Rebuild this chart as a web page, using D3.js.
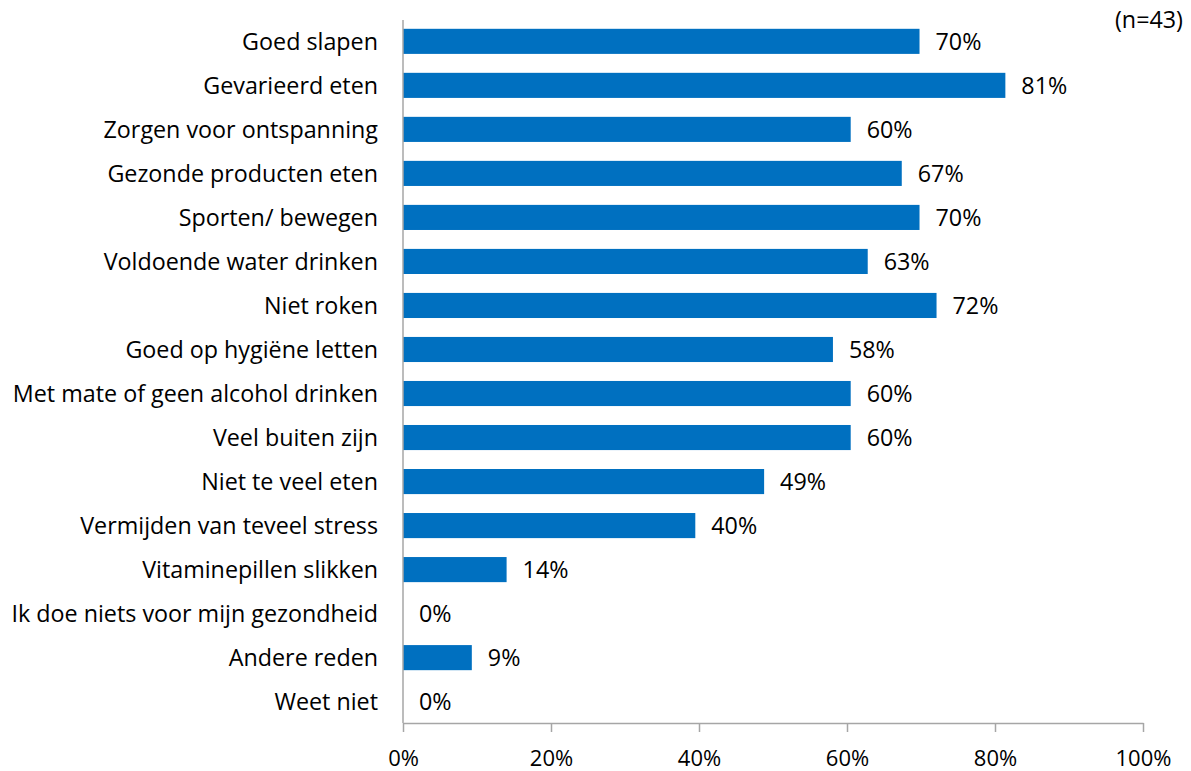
<!DOCTYPE html>
<html>
<head>
<meta charset="utf-8">
<script src="https://cdn.jsdelivr.net/npm/d3@7"></script>
<style>
  body { margin: 0; background: #fff; }
  text { font-family: "Open Sans", "Noto Sans", sans-serif; fill: #000; }
</style>
</head>
<body>
<svg id="chart" width="1191" height="771"></svg>
<script>
// categories, top to bottom
const categories = [
    "Goed slapen",
    "Gevarieerd eten",
    "Zorgen voor ontspanning",
    "Gezonde producten eten",
    "Sporten/ bewegen",
    "Voldoende water drinken",
    "Niet roken",
    "Goed op hygiëne letten",
    "Met mate of geen alcohol drinken",
    "Veel buiten zijn",
    "Niet te veel eten",
    "Vermijden van teveel stress",
    "Vitaminepillen slikken",
    "Ik doe niets voor mijn gezondheid",
    "Andere reden",
    "Weet niet"
];
// bar lengths (percent)
const values = [69.8, 81.4, 60.5, 67.4, 69.8, 62.8, 72.1, 58.1, 60.5, 60.5, 48.8, 39.5, 14.0, 0, 9.3, 0];
// labels printed next to bars
const valueLabels = ["70%", "81%", "60%", "67%", "70%", "63%", "72%", "58%", "60%", "60%", "49%", "40%", "14%", "0%", "9%", "0%"];
const tickValues = [0, 20, 40, 60, 80, 100];
const sampleNote = "(n=43)";

const svg = d3.select("#chart");
const margin = { left: 403, right: 48, top: 20, bottom: 48 };
const width = 1191 - margin.left - margin.right;
const height = 771 - margin.top - margin.bottom;
const fontSize = "23.3px";

const g = svg.append("g").attr("transform", `translate(${margin.left},${margin.top})`);

const x = d3.scaleLinear().domain([0, 100]).range([0, width]);
const y = d3.scaleBand().domain(categories).range([0, height]).paddingInner(0.43).paddingOuter(0.2);

// bars
g.selectAll("rect.bar")
    .data(values)
    .enter()
    .append("rect")
    .attr("class", "bar")
    .attr("x", 0)
    .attr("y", (d, i) => y(categories[i]))
    .attr("width", d => x(d))
    .attr("height", y.bandwidth())
    .attr("fill", "#0070C0");

// value labels
g.selectAll("text.val")
    .data(values)
    .enter()
    .append("text")
    .attr("class", "val")
    .attr("x", d => x(d) + 16)
    .attr("y", (d, i) => y(categories[i]) + y.bandwidth() / 2)
    .attr("dy", "0.36em")
    .style("font-size", fontSize)
    .text((d, i) => valueLabels[i]);

// category labels
g.selectAll("text.cat")
    .data(categories)
    .enter()
    .append("text")
    .attr("class", "cat")
    .attr("x", -25)
    .attr("y", d => y(d) + y.bandwidth() / 2)
    .attr("dy", "0.36em")
    .attr("text-anchor", "end")
    .style("font-size", fontSize)
    .text(d => d);

// x axis
const xAxis = g.append("g")
    .attr("transform", `translate(0,${height})`)
    .call(d3.axisBottom(x).tickValues(tickValues).tickFormat(d => d + "%").tickSize(9).tickSizeOuter(0).tickPadding(18));
xAxis.select(".domain").attr("stroke", "#A6A6A6").attr("stroke-width", 1.5);
xAxis.selectAll(".tick line").attr("stroke", "#A6A6A6").attr("stroke-width", 1.5);
xAxis.selectAll(".tick text").style("font-size", "22px").attr("fill", "#000").style("font-family", "'Open Sans', sans-serif");

// y axis line
g.append("line")
    .attr("x1", 0).attr("x2", 0)
    .attr("y1", 0).attr("y2", height)
    .attr("stroke", "#A6A6A6")
    .attr("stroke-width", 1.5);

// sample size note
svg.append("text")
    .attr("x", 1183)
    .attr("y", 28)
    .attr("text-anchor", "end")
    .style("font-size", fontSize)
    .text(sampleNote);
</script>
</body>
</html>
